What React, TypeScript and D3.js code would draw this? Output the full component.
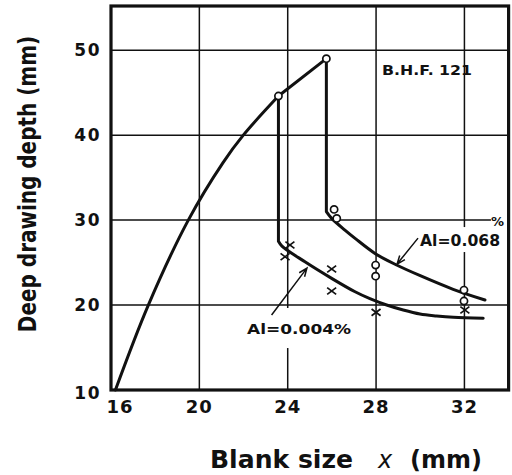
import React from 'react';
import * as d3 from 'd3';

const W = 512;
const H = 475;

// Axis ticks
const xTicks = [16, 20, 24, 28, 32];
const yTicks = [10, 20, 30, 40, 50];
const xDomain = [16, 34];
const yDomain = [10, 55.2];

// Common rising branch (limit drawing depth vs blank size)
const riseX = [16.2, 17.69, 19.5, 21.08, 21.99, 23.58];
const riseY = [10, 20, 30, 36.8, 40, 44.6];
const peakX = [23.58, 25.75];
const peakY = [44.6, 49.0];

// Al = 0.068 % branch: drop then falling curve
const hiDropY = [49.0, 31.0];
const hiX = [25.75, 25.99, 26.59, 27.05, 27.95, 28.93, 30.0, 31.49, 32.93];
const hiY = [31.0, 30.2, 28.82, 27.85, 26.08, 24.71, 23.45, 21.85, 20.59];

// Al = 0.004 % branch: drop then falling curve
const loDropY = [44.6, 27.5];
const loX = [23.58, 23.74, 24.78, 25.99, 27.05, 27.72, 28.48, 29.23, 29.99, 30.74, 31.5, 32.85];
const loY = [27.5, 26.94, 25.09, 23.14, 21.56, 20.75, 20.0, 19.41, 18.94, 18.71, 18.55, 18.44];

// Measured points
const circX = [23.58, 25.75, 26.1, 26.22, 27.98, 27.98, 31.98, 31.98];
const circY = [44.6, 49.0, 31.26, 30.2, 24.7, 23.4, 21.76, 20.47];
const crossX = [24.1, 23.88, 25.99, 25.99, 28.0, 32.02];
const crossY = [27.06, 25.68, 24.24, 21.65, 19.14, 19.41];

// Grid breaks around the annotations
const gap24 = [14.94, 19.65];
const gap32 = [26.24, 29.18];
const grid30End = 33.2;

// Annotations (data coordinates)
const arrowLo = [[23.27, 18.82], [24.87, 24.35]];
const arrowHi = [[29.9, 27.88], [28.95, 24.82]];
const labelLo = { text: 'Al=0.004%', at: [22.16, 16.59] };
const labelHi = { text: 'Al=0.068', at: [29.99, 26.95] };
const labelPct = { text: '%', at: [33.2, 29.25] };
const labelSteel = { text: 'B.H.F. 121', at: [28.27, 47.06] };

const FONT = "'DejaVu Sans', sans-serif";

type P = [number, number];

export default function App() {
  const x = d3.scaleLinear().domain(xDomain).range([111, 508.6]);
  const y = d3.scaleLinear().domain(yDomain).range([390, 6]);

  const smooth = d3
    .line<P>()
    .x((d) => x(d[0]))
    .y((d) => y(d[1]))
    .curve(d3.curveCatmullRom.alpha(0.5));
  const straight = d3
    .line<P>()
    .x((d) => x(d[0]))
    .y((d) => y(d[1]));

  const zip = (a: number[], b: number[]): P[] => a.map((v, i) => [v, b[i]] as P);
  const joinTail = (p: string | null) => (p ? 'L' + p.slice(1) : '');

  const risePath = (smooth(zip(riseX, riseY)) || '') + joinTail(straight(zip(peakX, peakY)));
  const hiPath =
    (straight([[peakX[1], hiDropY[0]], [peakX[1], hiDropY[1]]]) || '') +
    joinTail(smooth(zip(hiX, hiY)));
  const dropX = riseX[riseX.length - 1];
  const loPath =
    (straight([[dropX, loDropY[0]], [dropX, loDropY[1]]]) || '') + joinTail(smooth(zip(loX, loY)));

  // vertical grid segments
  const vSegments: [number, number, number][] = [];
  xTicks.slice(1).forEach((t) => {
    if (t === 24) {
      vSegments.push([t, yDomain[0], gap24[0]], [t, gap24[1], yDomain[1]]);
    } else if (t === 32) {
      vSegments.push([t, yDomain[0], gap32[0]], [t, gap32[1], yDomain[1]]);
    } else {
      vSegments.push([t, yDomain[0], yDomain[1]]);
    }
  });
  const hSegments: [number, number, number][] = yTicks
    .slice(1)
    .map((t) => [t, xDomain[0], t === 30 ? grid30End : xDomain[1]]);

  const arrow = (a: number[][]) => {
    const x1 = x(a[0][0]);
    const y1 = y(a[0][1]);
    const x2 = x(a[1][0]);
    const y2 = y(a[1][1]);
    const ang = Math.atan2(y2 - y1, x2 - x1);
    const len = 9;
    const spread = 0.38;
    const h1: P = [x2 - len * Math.cos(ang - spread), y2 - len * Math.sin(ang - spread)];
    const h2: P = [x2 - len * Math.cos(ang + spread), y2 - len * Math.sin(ang + spread)];
    return `M${x1},${y1}L${x2},${y2}M${h1[0]},${h1[1]}L${x2},${y2}L${h2[0]},${h2[1]}`;
  };

  const cs = 4.5;

  return (
    <svg
      width={W}
      height={H}
      viewBox={`0 0 ${W} ${H}`}
      style={{ position: 'absolute', left: 0, top: 0, background: '#fff' }}
    >
      <rect x={0} y={0} width={W} height={H} fill="#fff" />
      {/* grid */}
      <g stroke="#111" strokeWidth={1.5} fill="none">
        {vSegments.map(([t, a, b], i) => (
          <line key={'v' + i} x1={x(t)} x2={x(t)} y1={y(a)} y2={y(b)} />
        ))}
        {hSegments.map(([t, a, b], i) => (
          <line key={'h' + i} x1={x(a)} x2={x(b)} y1={y(t)} y2={y(t)} />
        ))}
      </g>
      {/* frame */}
      <rect
        x={x(xDomain[0])}
        y={y(yDomain[1])}
        width={x(xDomain[1]) - x(xDomain[0])}
        height={y(yDomain[0]) - y(yDomain[1])}
        fill="none"
        stroke="#111"
        strokeWidth={3.2}
      />
      {/* curves */}
      <g stroke="#111" strokeWidth={3} fill="none" strokeLinejoin="round" strokeLinecap="round">
        <path d={risePath} />
        <path d={hiPath} />
        <path d={loPath} />
      </g>
      {/* annotation arrows */}
      <g stroke="#111" strokeWidth={1.5} fill="none">
        <path d={arrow(arrowLo)} />
        <path d={arrow(arrowHi)} />
      </g>
      {/* markers */}
      <g stroke="#111" strokeWidth={1.7}>
        {circX.map((cx, i) => (
          <circle key={'c' + i} cx={x(cx)} cy={y(circY[i])} r={3.6} fill="#fff" />
        ))}
        {crossX.map((cx, i) => {
          const px = x(cx);
          const py = y(crossY[i]);
          return (
            <path
              key={'x' + i}
              d={`M${px - cs},${py - cs * 0.75}L${px + cs},${py + cs * 0.75}M${px - cs},${py + cs * 0.75}L${px + cs},${py - cs * 0.75}`}
              fill="none"
            />
          );
        })}
      </g>
      {/* tick labels */}
      <g fontFamily={FONT} fontWeight="bold" fill="#111">
        {xTicks.map((t) => (
          <text
            key={'xt' + t}
            x={x(t) + (t === xDomain[0] ? 9 : 0)}
            y={412.5}
            fontSize={18}
            letterSpacing={1}
            textAnchor="middle"
          >
            {t}
          </text>
        ))}
        {yTicks.map((t) => (
          <text
            key={'yt' + t}
            x={101}
            y={y(t) + (t === yDomain[0] ? 3 : 0)}
            dy="0.36em"
            fontSize={17}
            letterSpacing={1.5}
            textAnchor="end"
          >
            {t}
          </text>
        ))}
      </g>
      {/* annotations */}
      <g fontFamily={FONT} fontWeight="bold" fill="#111">
        <text x={x(labelSteel.at[0])} y={y(labelSteel.at[1])} fontSize={13.5} textLength={90} lengthAdjust="spacingAndGlyphs">
          {labelSteel.text}
        </text>
        <text x={x(labelHi.at[0])} y={y(labelHi.at[1])} fontSize={16} textLength={80} lengthAdjust="spacingAndGlyphs">
          {labelHi.text}
        </text>
        <text x={x(labelPct.at[0])} y={y(labelPct.at[1])} fontSize={13}>
          {labelPct.text}
        </text>
        <text x={x(labelLo.at[0])} y={y(labelLo.at[1])} fontSize={13.5} textLength={104} lengthAdjust="spacingAndGlyphs">
          {labelLo.text}
        </text>
      </g>
      {/* axis titles */}
      <g fontFamily={FONT} fontWeight="bold" fill="#111">
        <text x={210} y={468} fontSize={24}>
          <tspan textLength={143} lengthAdjust="spacingAndGlyphs">Blank size</tspan>
          <tspan x={378} fontStyle="italic" fontWeight="normal" fontFamily="'DejaVu Sans', sans-serif">x</tspan>
          <tspan x={410}>(mm)</tspan>
        </text>
        <text
          transform="translate(36,184) rotate(-90) scale(0.8,1)"
          textAnchor="middle"
          fontSize={25}
        >
          Deep drawing depth (mm)
        </text>
      </g>
    </svg>
  );
}
